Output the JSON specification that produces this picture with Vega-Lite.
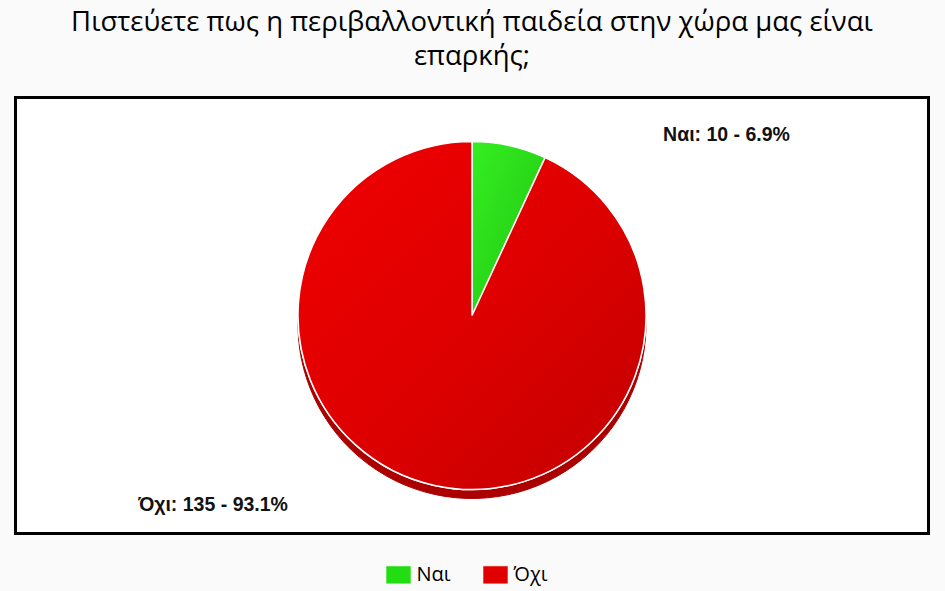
{
  "$schema": "https://vega.github.io/schema/vega-lite/v6.json",
  "width": 913,
  "height": 436,
  "autosize": "none",
  "padding": {"left": 15.5, "top": 97.5, "right": 16.5, "bottom": 57.5},
  "background": "#fafafa",
  "view": {"fill": "white", "stroke": "black", "strokeWidth": 3},
  "title": {
    "text": ["Πιστεύετε πως η περιβαλλοντική παιδεία στην χώρα μας είναι", "επαρκής;"],
    "font": "Open Sans",
    "fontSize": 27.5,
    "fontWeight": "normal",
    "color": "black",
    "anchor": "middle",
    "lineHeight": 34,
    "offset": 24
  },
  "data": {
    "values": [
      {"answer": "Ναι", "count": 10, "label": "Ναι: 10 - 6.9%"},
      {"answer": "Όχι", "count": 135, "label": "Όχι: 135 - 93.1%"}
    ]
  },
  "encoding": {
    "theta": {"field": "count", "type": "quantitative", "stack": true},
    "order": {"field": "count", "type": "quantitative", "sort": "ascending"}
  },
  "layer": [
    {
      "mark": {"type": "arc", "radius": 174, "yOffset": 9, "fill": "#ac0000", "stroke": "#ac0000"}
    },
    {
      "mark": {"type": "arc", "radius": 174, "stroke": "white", "strokeWidth": 1.5},
      "encoding": {
        "color": {
          "field": "answer",
          "type": "nominal",
          "scale": {"domain": ["Ναι", "Όχι"], "range": ["#22dd11", "#e00000"]},
          "legend": {
            "title": null,
            "orient": "none",
            "direction": "horizontal",
            "legendX": 373,
            "legendY": 467,
            "symbolType": "M-1.39,-1H1.39V1H-1.39Z",
            "symbolSize": 324,
            "symbolStrokeWidth": 0.6,
            "labelFont": "Open Sans",
            "labelFontSize": 20,
            "labelColor": "black",
            "labelOffset": 8,
            "columnPadding": 30
          }
        }
      }
    },
    {
      "mark": {"type": "arc", "radius": 174, "stroke": "white", "strokeWidth": 1.5},
      "encoding": {
        "fill": {
          "condition": {
            "test": "datum.answer === 'Ναι'",
            "value": {
              "gradient": "linear",
              "x1": 0, "y1": 0, "x2": 1, "y2": 1,
              "stops": [
                {"offset": 0, "color": "#35ee22"},
                {"offset": 1, "color": "#1fc40f"}
              ]
            }
          },
          "value": {
            "gradient": "linear",
            "x1": 0, "y1": 0, "x2": 1, "y2": 1,
            "stops": [
              {"offset": 0, "color": "#f00000"},
              {"offset": 0.5, "color": "#df0000"},
              {"offset": 1, "color": "#c20000"}
            ]
          }
        }
      }
    },
    {
      "mark": {"type": "text", "radius": 205, "dx": 147, "dy": 20, "align": "left", "baseline": "middle", "font": "Liberation Sans", "fontWeight": "bold", "fontSize": 19.5, "color": "#111111"},
      "encoding": {
        "text": {"condition": {"test": "datum.answer === 'Ναι'", "field": "label"}, "value": ""}
      }
    },
    {
      "mark": {"type": "text", "radius": 205, "dx": -140, "dy": -11, "align": "right", "baseline": "middle", "font": "Liberation Sans", "fontWeight": "bold", "fontSize": 19.5, "color": "#111111"},
      "encoding": {
        "text": {"condition": {"test": "datum.answer === 'Όχι'", "field": "label"}, "value": ""}
      }
    }
  ]
}
